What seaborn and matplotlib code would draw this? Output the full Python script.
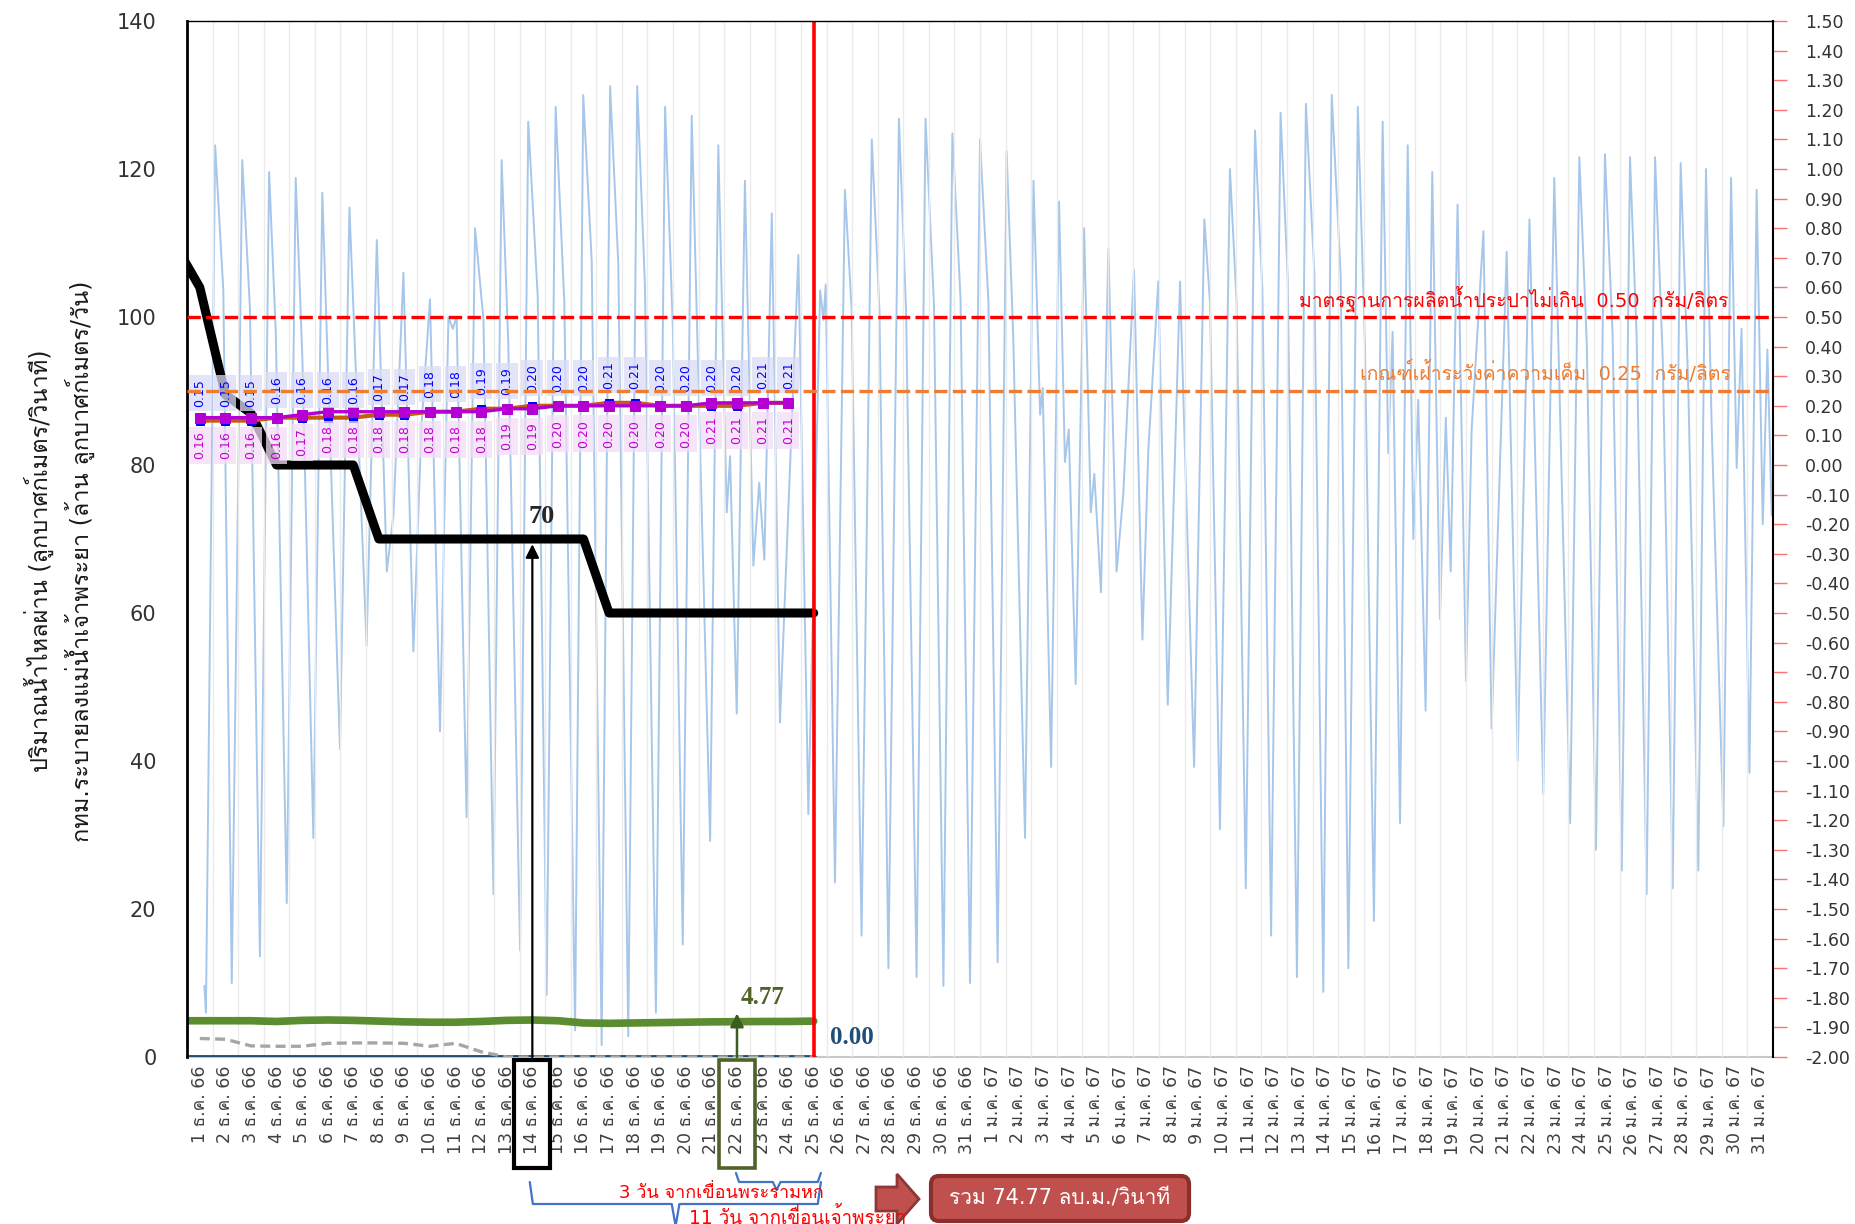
import numpy as np
import seaborn as sns
import matplotlib.pyplot as plt
import matplotlib.transforms as mtransforms
from matplotlib import font_manager
from matplotlib.ft2font import FT2Font
from matplotlib.patches import Rectangle, Polygon, FancyBboxPatch
from matplotlib.lines import Line2D

# ---- data ----
x_labels = [f"{d} ธ.ค. 66" for d in range(1, 32)] + [f"{d} ม.ค. 67" for d in range(1, 32)]

# daily flows (left axis), day 0 = 30 Nov, day 1 = 1 Dec
flow_days = list(range(0, 26))
bkk_release = [110, 104, 89.5, 87, 80, 80, 80, 80, 70, 70, 70, 70, 70, 70, 70, 70, 70,
               60, 60, 60, 60, 60, 60, 60, 60, 60]
green_flow = [4.9, 4.9, 4.9, 4.9, 4.8, 4.95, 5.0, 4.95, 4.85, 4.75, 4.7, 4.7, 4.8, 4.95,
              5.0, 4.9, 4.6, 4.55, 4.6, 4.65, 4.7, 4.75, 4.77, 4.8, 4.8, 4.85]
navy_flow = [0.0, 0.0, 0.0, 0.0, 0.0, 0.0, 0.0, 0.0, 0.0, 0.0, 0.0, 0.0, 0.0, 0.0,
             0.0, 0.0, 0.0, 0.0, 0.0, 0.0, 0.0, 0.0, 0.0, 0.0, 0.0, 0.0]
gray_days = list(range(1, 26))
gray_flow = [2.5, 2.4, 1.5, 1.45, 1.45, 1.85, 1.9, 1.9, 1.85, 1.45, 1.85, 0.7, 0.0,
             0.0, 0.0, 0.0, 0.0, 0.0, 0.0, 0.0, 0.0, 0.0, 0.0, 0.0, 0.0]

# salinity (right axis, g/L)
sal_days = list(range(1, 25))
sal_upper = [0.15, 0.15, 0.15, 0.16, 0.16, 0.16, 0.16, 0.17, 0.17, 0.18, 0.18, 0.19,
             0.19, 0.20, 0.20, 0.20, 0.21, 0.21, 0.20, 0.20, 0.20, 0.20, 0.21, 0.21]
sal_lower = [0.16, 0.16, 0.16, 0.16, 0.17, 0.18, 0.18, 0.18, 0.18, 0.18, 0.18, 0.18,
             0.19, 0.19, 0.20, 0.20, 0.20, 0.20, 0.20, 0.20, 0.21, 0.21, 0.21, 0.21]

# tide level turning points (right axis, m)
tide_time = [1.18, 1.24, 1.60, 1.92, 2.25, 2.66, 2.96, 3.35, 3.71, 3.97, 4.40, 4.75, 5.01,
             5.44, 5.79, 6.48, 6.85, 7.52, 7.92, 8.31, 8.57, 8.96, 9.35, 9.67, 10.00, 10.39,
             10.72, 10.89, 11.04, 11.43, 11.76, 12.09, 12.48, 12.80, 13.06, 13.52, 13.84,
             14.21, 14.56, 14.91, 15.25, 15.67, 15.99, 16.32, 16.71, 17.04, 17.36, 17.75,
             18.10, 18.40, 18.83, 19.19, 19.49, 19.88, 20.23, 20.95, 21.27, 21.60, 21.73,
             21.99, 22.31, 22.64, 22.87, 23.07, 23.36, 23.68, 24.40, 24.79, 25.25, 25.38,
             25.47, 25.83, 26.22, 26.48, 26.87, 27.27, 27.57, 27.92, 28.33, 28.61, 29.02,
             29.37, 29.70, 30.07, 30.42, 30.74, 31.11, 31.50, 31.83, 32.19, 32.54, 32.80,
             33.26, 33.59, 33.85, 33.95, 34.28, 34.59, 34.82, 34.97, 35.24, 35.57, 35.83,
             35.97, 36.23, 36.52, 36.84, 37.10, 37.52, 37.85, 38.08, 38.47, 38.84, 39.32,
             39.87, 40.27, 40.49, 40.88, 41.27, 41.53, 41.89, 42.25, 42.54, 42.88, 43.25,
             43.53, 43.89, 44.24, 44.57, 44.92, 45.25, 45.60, 45.90, 46.27, 46.55, 46.90,
             47.24, 47.46, 47.63, 47.92, 48.22, 48.44, 48.63, 48.92, 49.18, 49.48, 49.71,
             49.90, 50.17, 50.50, 50.72, 51.18, 51.50, 52.09, 52.52, 52.98, 53.52, 53.95,
             54.57, 54.93, 55.22, 55.58, 55.93, 56.23, 56.59, 56.91, 57.17, 57.56, 57.89,
             58.19, 58.58, 58.89, 59.19, 59.58, 59.88, 60.10, 60.56, 60.86, 61.08, 61.27,
             61.58, 61.86, 62.10, 62.28, 62.45]
tide_level = [-1.76, -1.85, 1.08, 0.59, -1.75, 1.03, 0.53, -1.66, 0.99, 0.45, -1.48, 0.97,
              0.36, -1.26, 0.92, -0.96, 0.87, -0.61, 0.76, -0.36, -0.17, 0.65, -0.63, 0.14,
              0.56, -0.90, 0.50, 0.46, 0.50, -1.19, 0.80, 0.49, -1.45, 1.03, 0.41, -1.64,
              1.16, 0.57, -1.79, 1.21, 0.55, -1.91, 1.25, 0.69, -1.96, 1.28, 0.68, -1.93,
              1.28, 0.61, -1.85, 1.21, 0.47, -1.62, 1.18, -1.27, 1.08, -0.16, 0.03, -0.84,
              0.96, -0.34, -0.06, -0.32, 0.85, -0.87, 0.71, -1.18, 0.59, 0.49, 0.61, -1.41,
              0.93, 0.53, -1.59, 1.10, 0.52, -1.70, 1.17, 0.52, -1.73, 1.17, 0.54, -1.76,
              1.12, 0.56, -1.75, 1.10, 0.55, -1.68, 1.06, 0.43, -1.26, 0.96, 0.17, 0.26,
              -1.02, 0.89, 0.01, 0.12, -0.74, 0.80, -0.16, -0.03, -0.43, 0.73, -0.36, -0.10,
              0.66, -0.59, 0.05, 0.62, -0.81, 0.62, -1.02, 0.83, 0.55, -1.23, 1.00, 0.55,
              -1.43, 1.13, 0.59, -1.59, 1.19, 0.63, -1.73, 1.22, 0.65, -1.78, 1.25, 0.64,
              -1.70, 1.21, 0.40, -1.54, 1.16, 0.04, 0.45, -1.21, 1.08, -0.25, 0.22, -0.83,
              0.99, -0.52, 0.16, -0.36, 0.88, -0.73, 0.12, 0.79, -0.89, 0.72, -1.00, 0.83,
              -1.11, 0.97, -1.21, 1.04, 0.41, -1.30, 1.05, 0.44, -1.37, 1.04, 0.43, -1.45,
              1.04, 0.36, -1.43, 1.02, 0.26, -1.37, 1.00, 0.14, -1.22, 0.97, -0.01, 0.46,
              -1.04, 0.93, -0.20, 0.39, -0.17]

# ---- fonts: find something that can draw Thai ----
thai_font = None
for fe in font_manager.fontManager.ttflist:
    try:
        if 0x0E01 in FT2Font(fe.fname).get_charmap():
            thai_font = fe.name
            break
    except Exception:
        continue

sns.set_style('white')
families = ['DejaVu Sans'] + ([thai_font] if thai_font else [])
plt.rcParams['font.family'] = families
plt.rcParams['axes.unicode_minus'] = False
serif = 'Liberation Serif'
narrow = ['Liberation Sans Narrow', 'DejaVu Sans']

W, H = 1856, 1224
fig = plt.figure(figsize=(W / 100, H / 100), dpi=100)
ax = fig.add_axes([187 / W, 1 - 1057 / H, (1773 - 187) / W, (1057 - 21) / H])
ax_t = ax.twinx()   # tide, drawn at the back
ax2 = ax.twinx()    # salinity, drawn at the front
ax_t.set_zorder(0)
ax.set_zorder(1)
ax2.set_zorder(2)
ax.patch.set_visible(False)
ax2.patch.set_visible(False)
ax_t.patch.set_facecolor('white')

# tide
sns.lineplot(x=tide_time, y=tide_level, ax=ax_t, color='#A7C7EA', lw=1.4,
             sort=False, estimator=None)
ax_t.set_ylim(-2, 1.5)
ax_t.set_yticks([])
ax_t.set_ylabel('')

# flows on the left axis
sns.lineplot(x=flow_days, y=navy_flow, ax=ax, color='#1F4E79', lw=3.5)
sns.lineplot(x=gray_days, y=gray_flow, ax=ax, color='#A6A6A6', lw=2.4,
             linestyle=(0, (3, 1.6)))
sns.lineplot(x=flow_days, y=green_flow, ax=ax, color='#5B8C2F', lw=5.5)
sns.lineplot(x=flow_days, y=bkk_release, ax=ax, color='black', lw=6.5)
ax.axvline(25, color='#FF0000', lw=2.6)

ax.set_xlim(0.5, 62.5)
ax.set_ylim(0, 140)
ax.set_yticks(range(0, 141, 20))
ax.set_xticks(range(1, 63))
ax.set_xticklabels(x_labels, rotation=90, fontsize=12.5, color='#404040')
ax.set_xticks(np.arange(0.5, 63, 1), minor=True)
ax.tick_params(axis='x', which='major', length=0, pad=6)
ax.tick_params(axis='x', which='minor', length=8, color='#D0D0D0', width=1)
ax.tick_params(axis='y', length=0, labelsize=15, labelcolor='#333333', pad=22)
ax.grid(which='minor', axis='x', color='#EBEBEB', lw=1)
ax.grid(which='major', visible=False)
ax.set_xlabel('')
ax.set_ylabel('')

# annotations on flows
ax.annotate('', xy=(14, 69.3), xytext=(14, 0), annotation_clip=False,
            arrowprops=dict(arrowstyle='-|>', color='black', lw=1.6,
                            mutation_scale=20, shrinkA=0, shrinkB=0))
ax.text(14.35, 73, '70', fontfamily=serif, fontweight='bold', fontsize=19,
        ha='center', va='center')
ax.annotate('', xy=(22, 5.9), xytext=(22, 0), annotation_clip=False,
            arrowprops=dict(arrowstyle='-|>', color='#3B5E20', lw=1.8,
                            mutation_scale=20, shrinkA=0, shrinkB=0))
ax.text(23.0, 8.0, '4.77', color='#4F6228', fontfamily=serif, fontweight='bold',
        fontsize=18, ha='center', va='center')
ax.text(26.5, 2.6, '0.00', color='#1F4E79', fontfamily=serif, fontweight='bold',
        fontsize=18, ha='center', va='center')

xtrans = ax.get_xaxis_transform()
ax.add_patch(Rectangle((13.3, -0.107), 1.4, 0.104, transform=xtrans, fill=False,
                       ec='black', lw=3, clip_on=False))
ax.add_patch(Rectangle((21.3, -0.107), 1.4, 0.104, transform=xtrans, fill=False,
                       ec='#4F6228', lw=2.6, clip_on=False))

# salinity on the right axis
sns.lineplot(x=sal_days, y=sal_upper, ax=ax2, color='#C55A11', lw=3, marker='s',
             markersize=6, markerfacecolor='#0000FF', markeredgecolor='#0000FF')
sns.lineplot(x=sal_days, y=sal_lower, ax=ax2, color='#B400D2', lw=2.4, marker='s',
             markersize=6.5, markerfacecolor='#B400D2', markeredgecolor='#B400D2')
for d, v in zip(sal_days, sal_upper):
    ax2.annotate(f"{v:.2f}", (d, v), xytext=(0, 20), textcoords='offset points',
                 rotation=90, ha='center', va='center', fontsize=9, fontfamily=narrow,
                 color='#0000FF', zorder=3,
                 bbox=dict(boxstyle='square,pad=0.35', fc='#DCDCF6', ec='none', alpha=0.75))
for d, v in zip(sal_days, sal_lower):
    ax2.annotate(f"{v:.2f}", (d, v), xytext=(0, -20), textcoords='offset points',
                 rotation=90, ha='center', va='center', fontsize=9, fontfamily=narrow,
                 color='#C000D0', zorder=3,
                 bbox=dict(boxstyle='square,pad=0.35', fc='#F3DDF6', ec='none', alpha=0.75))

ax2.axhline(0.5, color='#FF0000', lw=2.4, ls=(0, (4, 1.6)), zorder=3.5)
ax2.axhline(0.25, color='#ED7D31', lw=2.4, ls=(0, (4, 1.6)), zorder=3.5)
ax2.text(60.74, 0.56, 'มาตรฐานการผลิตน้ำประปาไม่เกิน  0.50  กรัม/ลิตร', color='#FF0000',
         fontsize=14, ha='right', va='center')
ax2.text(60.86, 0.314, 'เกณฑ์เฝ้าระวังค่าความเค็ม  0.25  กรัม/ลิตร', color='#ED7D31',
         fontsize=14, ha='right', va='center')

ax2.set_ylim(-2, 1.5)
ax2.set_yticks(np.round(np.arange(-2, 1.51, 0.1), 2))
ax2.yaxis.set_major_formatter(plt.FuncFormatter(lambda v, p: f"{v:.2f}"))
ax2.tick_params(axis='y', length=10, width=1, color='#FF7070', direction='out',
                labelsize=12.5, labelcolor='#333333', pad=13)
ax2.set_ylabel('')

# spines
for a in (ax, ax_t, ax2):
    for s in a.spines.values():
        s.set_visible(False)
for s in ('left', 'top', 'right'):
    ax2.spines[s].set_visible(True)
    ax2.spines[s].set_color('black')
ax2.spines['left'].set_linewidth(2)
ax2.spines['right'].set_linewidth(1.5)
ax2.spines['top'].set_linewidth(1)
ax_t.spines['bottom'].set_visible(True)
ax_t.spines['bottom'].set_color('#C8C8C8')
ax_t.spines['bottom'].set_linewidth(1.5)

# axis titles
fig.text(39 / W, 1 - 561 / H, 'ปริมาณน้ำไหลผ่าน (ลูกบาศก์เมตร/วินาที)', rotation=90,
         ha='center', va='center', fontsize=17, color='#1A1A1A')
fig.text(80 / W, 1 - 561 / H, 'กทม.ระบายลงแม่น้ำเจ้าพระยา (ล้าน ลูกบาศก์เมตร/วัน)',
         rotation=90, ha='center', va='center', fontsize=17, color='#1A1A1A')

# braces under the axis
btrans = mtransforms.blended_transform_factory(ax.transData, fig.transFigure)


def brace(x0, x1, xc, ytop, ymid, ybot):
    xs = [x0, x0 + 0.12, xc - 0.15, xc, xc + 0.15, x1 - 0.12, x1]
    ys = [ytop, ymid, ymid, ybot, ymid, ymid, ytop]
    ys = [1 - y / H for y in ys]
    fig.add_artist(Line2D(xs, ys, transform=btrans, color='#4472C4', lw=1.6))


brace(21.96, 25.28, 23.55, 1173, 1182, 1190)
brace(13.9, 25.28, 19.6, 1182, 1204, 1226)
fig.text(721 / W, 1 - 1193 / H, '3 วัน จากเขื่อนพระรามหก', color='#FF0000', fontsize=13,
         ha='center', va='center')
fig.text(689 / W, 1 - 1207 / H, '11 วัน จากเขื่อนเจ้าพระยา', color='#FF0000', fontsize=13.5,
         ha='left', va='top')

# block arrow and total box
inch = fig.dpi_scale_trans
arrow_px = [(876, 1187), (897, 1187), (897, 1174), (919, 1199), (897, 1224), (897, 1211),
            (876, 1211)]
fig.add_artist(Polygon([(x / 100, (H - y) / 100) for x, y in arrow_px], closed=True,
                       transform=inch, fc='#C0504D', ec='#8C3836', lw=2))
fig.add_artist(FancyBboxPatch((9.31, 0.03), 2.58, 0.45,
                              boxstyle='round,pad=0,rounding_size=0.08', transform=inch,
                              fc='#C0504D', ec='#8B2F2D', lw=3))
fig.text(1060 / W, 1 - 1199 / H, 'รวม 74.77 ลบ.ม./วินาที', color='white', fontsize=15,
         ha='center', va='center')

fig.savefig('out.png', dpi=100)
